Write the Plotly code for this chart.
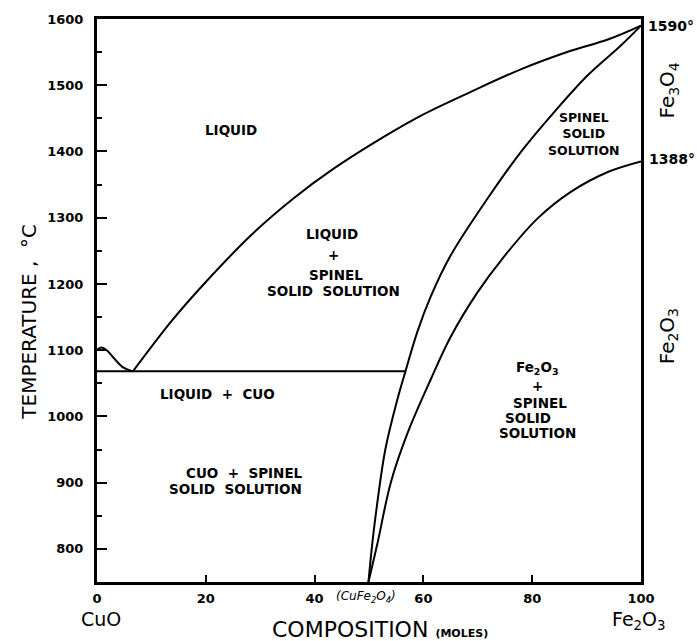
import plotly.graph_objects as go

# ---- data ----
cuo_liq_x = [0, 0.8, 1.8, 3.0, 4.8, 6.6]
cuo_liq_y = [1100, 1104, 1100, 1089, 1074, 1068]

liquidus_x = [6.6, 13.8, 20, 28.5, 36.1, 43.5, 52.7, 60.0, 68.7, 77.9, 87.1, 93.9, 100]
liquidus_y = [1068, 1145, 1203, 1275, 1329, 1374, 1422, 1456, 1490, 1524, 1552, 1569, 1590]

eutectic_x = [0, 56.7]
eutectic_y = [1068, 1068]

spinel_liq_x = [49.9, 50.5, 51.2, 53.0, 55.2, 56.7, 58.9, 61.3, 64.8, 71.8, 77.9, 84.0, 90.2, 96.3, 100]
spinel_liq_y = [750, 800, 849, 950, 1025, 1068, 1128, 1180, 1240, 1329, 1399, 1459, 1515, 1560, 1590]

spinel_sol_x = [49.9, 51.6, 54.0, 57.1, 61.3, 65.0, 70.0, 74.5, 81.0, 87.1, 93.9, 100]
spinel_sol_y = [750, 810, 900, 975, 1055, 1120, 1188, 1238, 1299, 1339, 1369, 1385]

x_ticks = [0, 20, 40, 60, 80, 100]
y_ticks = [800, 900, 1000, 1100, 1200, 1300, 1400, 1500, 1600]
y_minor = [850, 950, 1050, 1150, 1250, 1350, 1450, 1550]

FONT = "DejaVu Sans"

fig = go.Figure()
for xs, ys in [(cuo_liq_x, cuo_liq_y), (liquidus_x, liquidus_y), (eutectic_x, eutectic_y),
               (spinel_liq_x, spinel_liq_y), (spinel_sol_x, spinel_sol_y)]:
    fig.add_trace(go.Scatter(x=xs, y=ys, mode="lines",
                             line=dict(color="black", width=2, shape="spline", smoothing=1.0),
                             hoverinfo="skip", showlegend=False))

fig.update_layout(
    width=697, height=641,
    margin=dict(l=97, r=56, t=16, b=59),
    plot_bgcolor="white", paper_bgcolor="white",
    showlegend=False,
    font=dict(family=FONT, color="black"),
)
fig.update_xaxes(range=[0, 100], tickvals=x_ticks, ticktext=[f"<b>{v}</b>" for v in x_ticks],
                 ticks="inside", ticklen=7, tickwidth=2, tickcolor="black",
                 showline=True, linewidth=3, linecolor="black", mirror=True,
                 ticklabelstandoff=2,
                 showgrid=False, zeroline=False, tickfont=dict(size=13, family=FONT))
fig.update_yaxes(range=[750, 1600], tickvals=y_ticks, ticktext=[f"<b>{v}</b>" for v in y_ticks],
                 ticks="inside", ticklen=10, tickwidth=2, tickcolor="black",
                 minor=dict(tickvals=y_minor, ticks="inside", ticklen=5, tickwidth=2, tickcolor="black"),
                 showline=True, linewidth=3, linecolor="black", mirror=True,
                 ticklabelstandoff=8,
                 showgrid=False, zeroline=False, tickfont=dict(size=13, family=FONT))

def lab(text, x, y, size=13.5, **kw):
    d = dict(text=text, x=x, y=y, xref="x", yref="y", showarrow=False,
             font=dict(size=size, family=FONT, color="black"))
    d.update(kw)
    fig.add_annotation(**d)

# region labels
lab("<b>LIQUID</b>", 24.6, 1433)
lab("<b>LIQUID</b>", 43.2, 1276)
lab("<b>+</b>", 43.4, 1244)
lab("<b>SPINEL</b>", 44.0, 1214)
lab("<b>SOLID  SOLUTION</b>", 43.4, 1190)
lab("<b>LIQUID  +  CUO</b>", 22.2, 1034)
lab("<b>CUO  +  SPINEL</b>", 27.2, 915)
lab("<b>SOLID  SOLUTION</b>", 25.4, 891)
lab("<b>SPINEL<br>SOLID<br>SOLUTION</b>", 89.5, 1426, size=12.5)
lab("<b>Fe<sub>2</sub>O<sub>3</sub></b>", 80.9, 1073)
lab("<b>+</b>", 80.9, 1046)
lab("<b>SPINEL</b>", 81.4, 1020)
lab("<b>SOLID</b>", 79.2, 998)
lab("<b>SOLUTION</b>", 81.0, 975)

# right side labels
lab("<b>1590°</b>", 100, 1590, size=14, xanchor="left", xshift=5)
lab("<b>1388°</b>", 100, 1388, size=14, xanchor="left", xshift=6)
lab("Fe<sub>3</sub>O<sub>4</sub>", 100, 1492, size=20, textangle=-90, xshift=27)
lab("Fe<sub>2</sub>O<sub>3</sub>", 100, 1121, size=20, textangle=-90, xshift=27)

# bottom labels
lab("<i>(CuFe<sub>2</sub>O<sub>4</sub>)</i>", 49.4, 750, size=12, yshift=-15)
lab("CuO", 0.7, 750, size=19, yshift=-37)
lab("Fe<sub>2</sub>O<sub>3</sub>", 99.6, 750, size=19, yshift=-38)
lab("COMPOSITION <span style='font-size:11px'><b>(MOLES)</b></span>", 52.0, 750, size=22, yshift=-47)

# y axis title
fig.add_annotation(text="TEMPERATURE ,  °C", x=-0.1507, y=1143, xref="paper", yref="y",
                   showarrow=False, textangle=-90, font=dict(size=20, family=FONT, color="black"))

fig.write_html("out.html")
